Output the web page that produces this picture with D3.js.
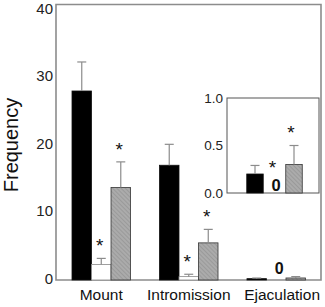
<!DOCTYPE html>
<html><head><meta charset="utf-8">
<script src="https://cdn.jsdelivr.net/npm/d3@7"></script>
<style>body{margin:0;background:#fff}svg{display:block;font-family:"Liberation Sans",Arial,sans-serif}</style>
</head><body><svg id="c" width="325" height="307"></svg>
<script>
const categories = ["Mount", "Intromission", "Ejaculation"];
const series = ["black", "white", "gray"];
const means = [[28.0, 2.3, 13.7], [17.0, 0.5, 5.5], [0.2, 0, 0.3]];
const errTops = [[32.3, 3.2, 17.5], [20.1, 0.85, 7.5], [0.29, 0, 0.5]];
const stars = [[false, true, true], [false, true, true], [false, true, true]];
const yTicks = [0, 10, 20, 30, 40];
const insetTicks = [0, 0.5, 1.0];
const insetMeans = [0.2, 0, 0.3];
const insetErrTops = [0.29, 0, 0.5];

const svg = d3.select("#c");
const defs = svg.append("defs");
const pat = defs.append("pattern").attr("id","hatch").attr("patternUnits","userSpaceOnUse")
  .attr("width",3).attr("height",3).attr("patternTransform","rotate(-45)");
pat.append("rect").attr("width",3).attr("height",3).attr("fill","#ababab");
pat.append("rect").attr("width",1).attr("height",3).attr("fill","#9a9a9a");
const fills = {black:"#000", white:"#fff", gray:"url(#hatch)"};
const strokes = {black:"#111", white:"#888", gray:"#333"};

const x = d3.scaleBand().domain(categories).range([72, 305.5]).paddingInner(0.331).paddingOuter(0);
const xs = d3.scaleBand().domain(series).range([0, x.bandwidth()]);
const y = d3.scaleLinear().domain([0, 40]).range([280, 10]);
const frameColor = "#8c8c8c";
const frameTop = 4.5;

// frame
svg.append("path").attr("d", `M56,${frameTop}H321V${y(0)}H56Z`).attr("fill","none").attr("stroke",frameColor).attr("stroke-width",1.6);

// y tick labels
svg.append("g").selectAll("text").data(yTicks).join("text")
  .attr("x", 53).attr("y", d => y(d) - 1.5).attr("dy","0.36em").attr("text-anchor","end")
  .attr("font-size",15).attr("fill","#222").text(d => d);

svg.append("text").attr("transform",`translate(18,${(y(0)+y(40))/2})  rotate(-90)`)
  .attr("text-anchor","middle").attr("font-size",20).attr("fill","#111").text("Frequency");

// bars
const flat = [];
categories.forEach((c,i) => series.forEach((s,j) => flat.push({c, s, v: means[i][j], e: errTops[i][j], star: stars[i][j]})));
const g = svg.append("g");
g.selectAll("rect").data(flat.filter(d => d.v > 0)).join("rect")
  .attr("x", d => x(d.c) + xs(d.s)).attr("width", xs.bandwidth())
  .attr("y", d => y(d.v)).attr("height", d => y(0) - y(d.v))
  .attr("fill", d => fills[d.s]).attr("stroke", d => strokes[d.s]).attr("stroke-width", 0.8);

// error bars
const cx = d => x(d.c)+xs(d.s)+xs.bandwidth()/2;
const eb = g.selectAll("g.eb").data(flat.filter(d => d.e > d.v)).join("g").attr("class","eb");
eb.append("line").attr("x1", cx).attr("x2", cx)
  .attr("y1", d => y(d.v)).attr("y2", d => y(d.e)).attr("stroke", frameColor).attr("stroke-width",1.2);
eb.append("line").attr("x1", d => cx(d)-4.5).attr("x2", d => cx(d)+4.5)
  .attr("y1", d => y(d.e)).attr("y2", d => y(d.e)).attr("stroke", frameColor).attr("stroke-width",1.2);

// stars in main plot (ejaculation group stars are shown in inset)
g.selectAll("text.star").data(flat.filter(d => d.star && d.c !== "Ejaculation")).join("text").attr("class","star")
  .attr("x", d => cx(d) - 1.5).attr("y", d => y(d.e) - 16 + 10)
  .attr("text-anchor","middle").attr("font-size",19).attr("fill","#111").text("*");

// zero label in main
g.selectAll("text.zero").data(flat.filter(d => d.v === 0)).join("text").attr("class","zero")
  .attr("x", d => cx(d) + 3).attr("y", d => y(0) - 6)
  .attr("text-anchor","middle").attr("font-size",16).attr("font-weight","bold").attr("fill","#111").text("0");

// category labels
const cl = svg.append("g").selectAll("text").data(categories).join("text")
  .attr("x", d => x(d) + x.bandwidth()/2).attr("y", 300)
  .attr("text-anchor","middle").attr("font-size",15.5).attr("fill","#111").text(d => d);
cl.each(function(d){
  const w = this.getComputedTextLength();
  const c = x(d) + x.bandwidth()/2;
  if (c + w/2 < 320 && d === categories[categories.length-1]) d3.select(this).attr("x", 320 - w/2);
});

// inset
const iy = d3.scaleLinear().domain([0, 1]).range([193, 98]);
const ix = d3.scaleBand().domain(series).range([246.75, 302.25]).paddingInner(0.154);
const ins = svg.append("g");
ins.append("rect").attr("x",227).attr("y",iy(1)).attr("width",92).attr("height",iy(0)-iy(1))
  .attr("fill","#fff").attr("stroke","#555").attr("stroke-width",1);
ins.selectAll("text.t").data(insetTicks).join("text").attr("class","t")
  .attr("x",223).attr("y", d => iy(d)).attr("dy","0.36em").attr("text-anchor","end")
  .attr("font-size",13.5).attr("fill","#222").text(d => d.toFixed(1));
const idata = series.map((s,j) => ({s, v: insetMeans[j], e: insetErrTops[j]}));
const icx = d => ix(d.s)+ix.bandwidth()/2;
ins.selectAll("rect.b").data(idata.filter(d => d.v > 0)).join("rect").attr("class","b")
  .attr("x", d => ix(d.s)).attr("width", ix.bandwidth()).attr("y", d => iy(d.v)).attr("height", d => iy(0)-iy(d.v))
  .attr("fill", d => fills[d.s]).attr("stroke", d => strokes[d.s]).attr("stroke-width",0.8);
const ieb = ins.selectAll("g.ieb").data(idata.filter(d => d.e > d.v)).join("g").attr("class","ieb");
ieb.append("line").attr("x1", icx).attr("x2", icx)
  .attr("y1", d => iy(d.v)).attr("y2", d => iy(d.e)).attr("stroke", frameColor).attr("stroke-width",1.2);
ieb.append("line").attr("x1", d => icx(d)-4.5).attr("x2", d => icx(d)+4.5)
  .attr("y1", d => iy(d.e)).attr("y2", d => iy(d.e)).attr("stroke", frameColor).attr("stroke-width",1.2);
const istar = idata.map((d,j) => ({...d, star: stars[2][j]})).filter(d => d.star);
ins.selectAll("text.star").data(istar).join("text").attr("class","star")
  .attr("x", d => icx(d) - (d.v === 0 ? 2 : 3)).attr("y", d => (d.v === 0 ? iy(0) - 29 : iy(d.e) - 17) + 10)
  .attr("text-anchor","middle").attr("font-size",19).attr("fill","#111").text("*");
ins.selectAll("text.zero").data(idata.filter(d => d.v === 0)).join("text").attr("class","zero")
  .attr("x", d => icx(d) + 1.5).attr("y", d => iy(0) - 2)
  .attr("text-anchor","middle").attr("font-size",16.5).attr("font-weight","bold").attr("fill","#111").text("0");
</script></body></html>
